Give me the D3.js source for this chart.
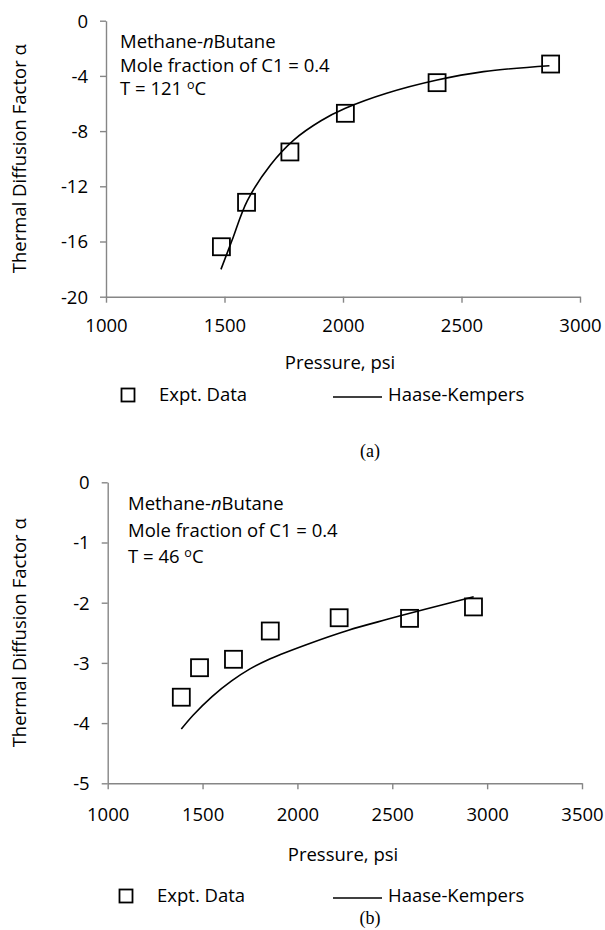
<!DOCTYPE html>
<html><head><meta charset="utf-8">
<script src="https://cdn.jsdelivr.net/npm/d3@7"></script>
<style>
body{margin:0;background:#fff}
text{font-family: "Open Sans", Lato, sans-serif; fill:#000}
</style>
</head><body>
<svg id="c" width="605" height="930"></svg>
<script>
// ---------- data ----------
const xTicksA = [1000, 1500, 2000, 2500, 3000];
const yTicksA = [0, -4, -8, -12, -16, -20];
const exptPressureA = [1487, 1593, 1776, 2010, 2397, 2876];
const exptAlphaA    = [-16.38, -13.16, -9.51, -6.71, -4.49, -3.14];
const hkPressureA   = [1485, 1531, 1596, 1694, 1792, 1907, 2010, 2184, 2397, 2593, 2871];
const hkAlphaA      = [-18.02, -15.95, -13.05, -10.45, -8.65, -7.25, -6.35, -5.26, -4.30, -3.69, -3.26];

const xTicksB = [1000, 1500, 2000, 2500, 3000, 3500];
const yTicksB = [0, -1, -2, -3, -4, -5];
const exptPressureB = [1388, 1484, 1663, 1857, 2220, 2591, 2928];
const exptAlphaB    = [-3.57, -3.08, -2.94, -2.47, -2.25, -2.26, -2.07];
const hkPressureB   = [1388, 1450, 1550, 1653, 1750, 1857, 2061, 2265, 2469, 2673, 2929];
const hkAlphaB      = [-4.10, -3.87, -3.56, -3.30, -3.10, -2.93, -2.68, -2.46, -2.28, -2.11, -1.90];

const annotA = ["Methane-", "Butane", "Mole fraction of C1 = 0.4", "T = 121 "];
const annotB = ["Methane-", "Butane", "Mole fraction of C1 = 0.4", "T = 46 "];

const svg = d3.select("#c");
const FS = 18.5;

function panel(o) {
  const x = d3.scaleLinear().domain(d3.extent(o.xTicks)).range([o.left, o.right]);
  const y = d3.scaleLinear().domain(d3.extent(o.yTicks)).range([o.bottom, o.top]);
  const g = svg.append("g");

  const xa = g.append("g").attr("transform", `translate(0,${o.bottom})`)
    .call(d3.axisBottom(x).tickValues(o.xTicks).tickSize(6).tickSizeOuter(0).tickFormat(d => String(d)));
  const ya = g.append("g").attr("transform", `translate(${o.left},0)`)
    .call(d3.axisLeft(y).tickValues(o.yTicks).tickSize(6).tickSizeOuter(0).tickFormat(d => String(d)));
  [xa, ya].forEach(a => {
    a.select(".domain").attr("stroke", "#868686").attr("stroke-width", 1.4);
    a.selectAll(".tick line").attr("stroke", "#868686").attr("stroke-width", 1.4);
    a.selectAll("text").attr("font-size", FS).attr("font-family", null).attr("fill", "#000");
  });
  xa.selectAll("text").attr("y", o.xLabOff).attr("dy", "0.35em");
  ya.selectAll("text").attr("x", -18).attr("dy", "0.35em");

  // axis titles
  g.append("text").attr("x", o.xTitleX).attr("y", o.xTitleY)
    .attr("text-anchor", "middle").attr("dy", "0.35em").attr("font-size", FS).text("Pressure, psi");
  g.append("text").attr("transform", `translate(20,${(o.top + o.bottom) / 2}) rotate(-90)`)
    .attr("text-anchor", "middle").attr("dy", "0.35em").attr("font-size", FS).text("Thermal Diffusion Factor α");

  // annotation
  const ax = o.annX;
  const t1 = g.append("text").attr("x", ax).attr("y", o.annY[0]).attr("dy", "0.35em").attr("font-size", FS);
  t1.append("tspan").text(o.annot[0]);
  t1.append("tspan").attr("font-style", "italic").text("n");
  t1.append("tspan").text(o.annot[1]);
  g.append("text").attr("x", ax).attr("y", o.annY[1]).attr("dy", "0.35em")
    .attr("font-size", FS).text(o.annot[2]);
  const t3 = g.append("text").attr("x", ax).attr("y", o.annY[2]).attr("dy", "0.35em").attr("font-size", FS);
  t3.append("tspan").text(o.annot[3]);
  t3.append("tspan").attr("dy", -6).attr("font-size", 12.5).text("o");
  t3.append("tspan").attr("dy", 6).text("C");

  // model curve
  const pts = o.hkP.map((p, i) => [p, o.hkA[i]]);
  g.append("path").datum(pts)
    .attr("d", d3.line().x(d => x(d[0])).y(d => y(d[1])).curve(d3.curveCatmullRom.alpha(0.5)))
    .attr("fill", "none").attr("stroke", "#000").attr("stroke-width", 1.6);

  // experimental squares
  const S = 17;
  g.selectAll("rect.m").data(o.exP.map((p, i) => [p, o.exA[i]])).enter().append("rect")
    .attr("x", d => x(d[0]) - S / 2).attr("y", d => y(d[1]) - S / 2)
    .attr("width", S).attr("height", S)
    .attr("fill", "none").attr("stroke", "#000").attr("stroke-width", 1.8);

  // legend
  const ly = o.legY;
  g.append("rect").attr("x", o.legSqX - 6.5).attr("y", ly - 6.5).attr("width", 13).attr("height", 13)
    .attr("fill", "none").attr("stroke", "#000").attr("stroke-width", 1.8);
  g.append("text").attr("x", o.legSqX + 31).attr("y", ly).attr("dy", "0.35em").attr("font-size", FS).text("Expt. Data");
  g.append("line").attr("x1", 333).attr("x2", 382).attr("y1", ly + 2).attr("y2", ly + 2)
    .attr("stroke", "#000").attr("stroke-width", 1.6);
  g.append("text").attr("x", 388).attr("y", ly).attr("dy", "0.35em").attr("font-size", FS).text("Haase-Kempers");

  // caption
  svg.append("text").attr("x", 370).attr("y", o.capY).attr("dy", "0.35em").attr("text-anchor", "middle")
    .attr("font-size", 18).style("font-family", "'Liberation Serif', 'Times New Roman', serif").text(o.cap);
}

panel({xTicks: xTicksA, yTicks: yTicksA, exP: exptPressureA, exA: exptAlphaA, hkP: hkPressureA, hkA: hkAlphaA,
  annot: annotA, left: 106, right: 580, top: 20.7, bottom: 296.7, xLabOff: 29, xTitleX: 340, xTitleY: 363,
  annX: 120, annY: [42, 65.5, 89], legY: 395, legSqX: 128, capY: 451, cap: "(a)"});
panel({xTicks: xTicksB, yTicks: yTicksB, exP: exptPressureB, exA: exptAlphaB, hkP: hkPressureB, hkA: hkAlphaB,
  annot: annotB, left: 107.7, right: 582, top: 482.3, bottom: 783.3, xLabOff: 31.5, xTitleX: 343, xTitleY: 855,
  annX: 128, annY: [504, 531, 557], legY: 896, legSqX: 126, capY: 918, cap: "(b)"});
</script>
</body></html>
